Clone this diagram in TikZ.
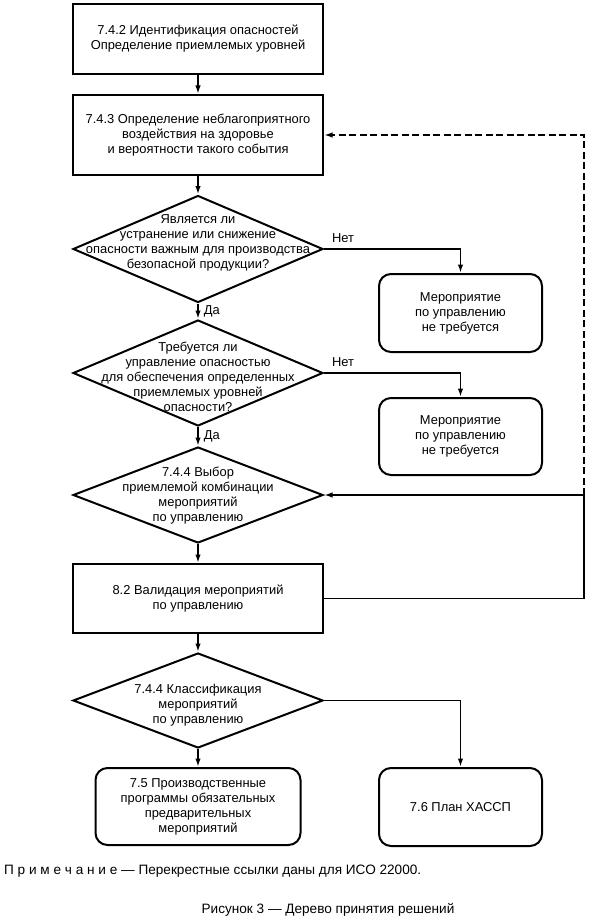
\documentclass[tikz,border=0pt]{standalone}
\usepackage{fontspec}
\setmainfont{Liberation Sans}
\usetikzlibrary{shapes.geometric,arrows.meta}
\newcommand\myfs{\fontsize{12.9}{15}\selectfont}
\newcommand\myfsb{\fontsize{13.6}{16}\selectfont}
\begin{document}
\begin{tikzpicture}[x=1pt,y=-1pt,
  box/.style={draw, line width=2pt, rectangle, inner sep=0pt, align=center, font=\myfs},
  rbox/.style={box, rounded corners=12pt},
  dia/.style={draw, line width=2pt, diamond, inner sep=0pt},
  txt/.style={align=center, font=\myfs, inner sep=0pt},
  line/.style={line width=1.7pt},
  conn/.style={line, -{Latex[length=8.5pt,width=5.5pt]}},
  dashline/.style={conn, dash pattern=on 7pt off 3.5pt},
  lbl/.style={font=\myfs, inner sep=0pt},
  captext/.style={font=\myfsb, inner sep=0pt}
]
\useasboundingbox (0,0) rectangle (597,917);

\node[box, minimum width=250pt, minimum height=70pt] (b1) at (198,39) {7.4.2 Идентификация опасностей\\Определение приемлемых уровней};
\node[box, minimum width=250pt, minimum height=80pt] (b2) at (198,135) {7.4.3 Определение неблагоприятного\\воздействия на здоровье\\и вероятности такого события};

\node[dia, minimum width=250pt, minimum height=107pt] (d1) at (198,249) {};
\node[txt] (d1t) at (198,242.5) {Является ли\\устранение или снижение\\опасности важным для производства\\безопасной продукции?};

\node[dia, minimum width=250pt, minimum height=106pt] (d2) at (198,373) {};
\node[txt] (d2t) at (198,376.5) {Требуется ли\\управление опасностью\\для обеспечения определенных\\приемлемых уровней\\опасности?};

\node[dia, minimum width=250pt, minimum height=96pt] (d3) at (198,495) {};
\node[txt] (d3t) at (198,496) {7.4.4 Выбор\\приемлемой комбинации\\мероприятий\\по управлению};

\node[box, minimum width=250pt, minimum height=69pt] (b3) at (198,598.5) {8.2 Валидация мероприятий\\по управлению};

\node[dia, minimum width=250pt, minimum height=95pt] (d4) at (198,700.5) {};
\node[txt] (d4t) at (198,705) {7.4.4 Классификация\\мероприятий\\по управлению};

\node[rbox, minimum width=205pt, minimum height=77pt] (b4) at (198,806.5) {7.5 Производственные\\программы обязательных\\предварительных\\мероприятий};
\node[rbox, minimum width=163pt, minimum height=78pt] (b5) at (460.5,807) {7.6 План ХАССП};

\node[rbox, minimum width=163pt, minimum height=78pt] (r1) at (460.5,313) {Мероприятие\\по управлению\\не требуется};
\node[rbox, minimum width=163pt, minimum height=77pt] (r2) at (460.5,436.5) {Мероприятие\\по управлению\\не требуется};

\coordinate (cA) at (584,495);

\draw[conn] (b1) -- (b2);
\draw[conn] (b2) -- (d1);
\draw[conn] (d1) -- node[lbl, anchor=west, xshift=5pt] {Да} (d2);
\draw[conn] (d2) -- node[lbl, anchor=west, xshift=5pt] {Да} (d3);
\draw[conn] (d3) -- (b3);
\draw[conn] (b3) -- (d4);
\draw[conn] (d4) -- (b4);
\draw[conn] (d1.east) -| node[lbl, pos=0.07, anchor=south, yshift=6pt] {Нет} (r1.north);
\draw[conn] (d2.east) -| node[lbl, pos=0.07, anchor=south, yshift=6pt] {Нет} (r2.north);
\draw[conn] (d4.east) -| (b5.north);
\draw[line] (b3.east) -| (cA);
\draw[conn] (cA) -- (d3.east);
\draw[dashline] (cA) |- (b2.east);

\node[captext, anchor=west] (note) at (4,871) {П р и м е ч а н и е — Перекрестные ссылки даны для ИСО 22000.};
\node[captext] (caption) at (328,910) {Рисунок 3 — Дерево принятия решений};
\end{tikzpicture}
\end{document}
